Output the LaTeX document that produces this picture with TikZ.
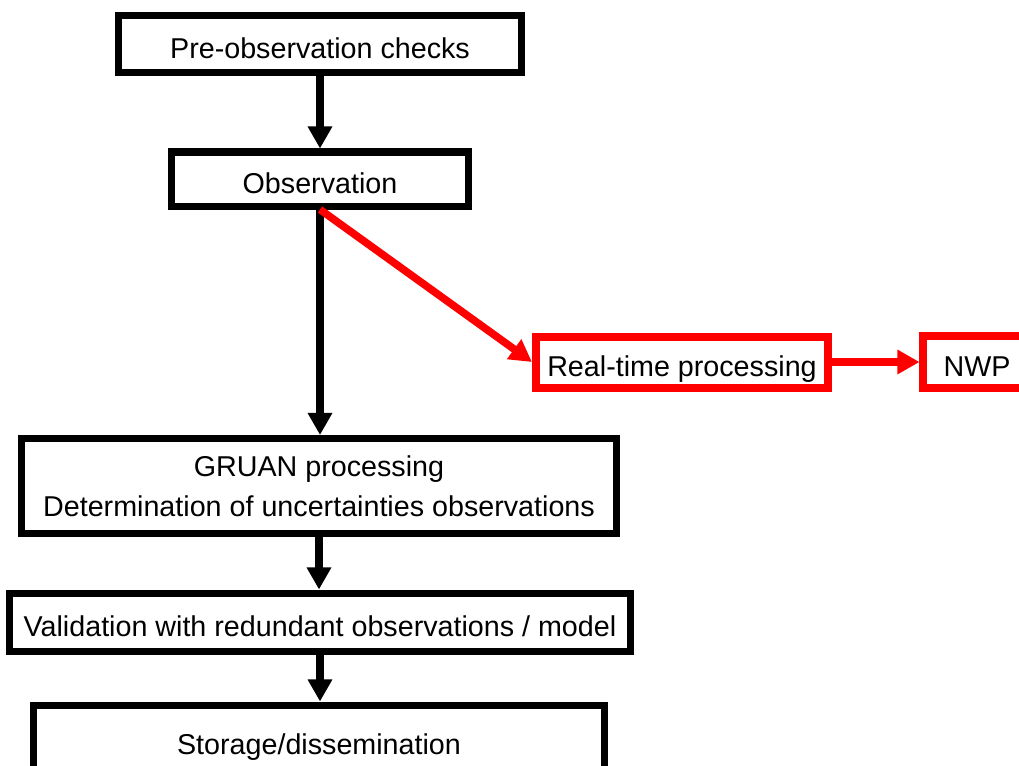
\documentclass[tikz,border=0pt]{standalone}
\usepackage{fontspec}
\setmainfont{Liberation Sans}
\usepackage{tikz}
\usetikzlibrary{arrows.meta,positioning,calc}
\definecolor{myred}{RGB}{255,0,0}
\tikzstyle{stepbox}=[draw,line width=0.175cm,fill=white,inner sep=0pt,text height=20pt,text depth=0pt,font=\fontsize{20.4}{24.9}\selectfont]
\tikzstyle{twobox}=[draw,line width=0.175cm,fill=white,inner sep=0pt,align=center,font=\fontsize{20.4}{28.5}\selectfont]
\tikzstyle{rtbox}=[stepbox,draw=myred,line width=0.2cm]
\tikzstyle{flow}=[line width=0.19cm,-{Triangle[length=0.55cm,width=0.58cm]}]

\begin{document}
\begin{tikzpicture}[x=0.025cm,y=-0.025cm]
\useasboundingbox (0,0) rectangle (1019,765);
\draw (320, 44) node [stepbox, minimum width=10.075cm, minimum height=1.425cm] (pre) {Pre-observation checks};
\draw (320, 179) node [stepbox, minimum width=7.4cm, minimum height=1.35cm] (obs) {Observation};
\draw (682, 362) node [rtbox, minimum width=7.3cm, minimum height=1.275cm] (rt) {Real-time processing};
\draw (977, 362) node [rtbox, minimum width=2.675cm, minimum height=1.3cm] (nwp) {NWP};
\draw (319, 486) node [twobox, minimum width=14.875cm, minimum height=2.375cm] (gruan) {GRUAN processing\\Determination of uncertainties observations};
\draw (320, 622) node [stepbox, minimum width=15.525cm, minimum height=1.45cm] (val) {Validation with redundant observations / model};
\draw (319, 740) node [stepbox, minimum width=14.275cm, minimum height=1.75cm] (stor) {Storage/dissemination};
\draw[flow] (pre.south) -- (pre.south |- obs.north);
\draw[flow] (obs.south) -- (obs.south |- gruan.north);
\draw[flow] (gruan.south) -- (gruan.south |- val.north);
\draw[flow] (val.south) -- (val.south |- stor.north);
\draw[flow, myred] (obs.south) -- (rt.west);
\draw[flow, myred] (rt.east) -- (nwp.west);
\end{tikzpicture}
\end{document}
